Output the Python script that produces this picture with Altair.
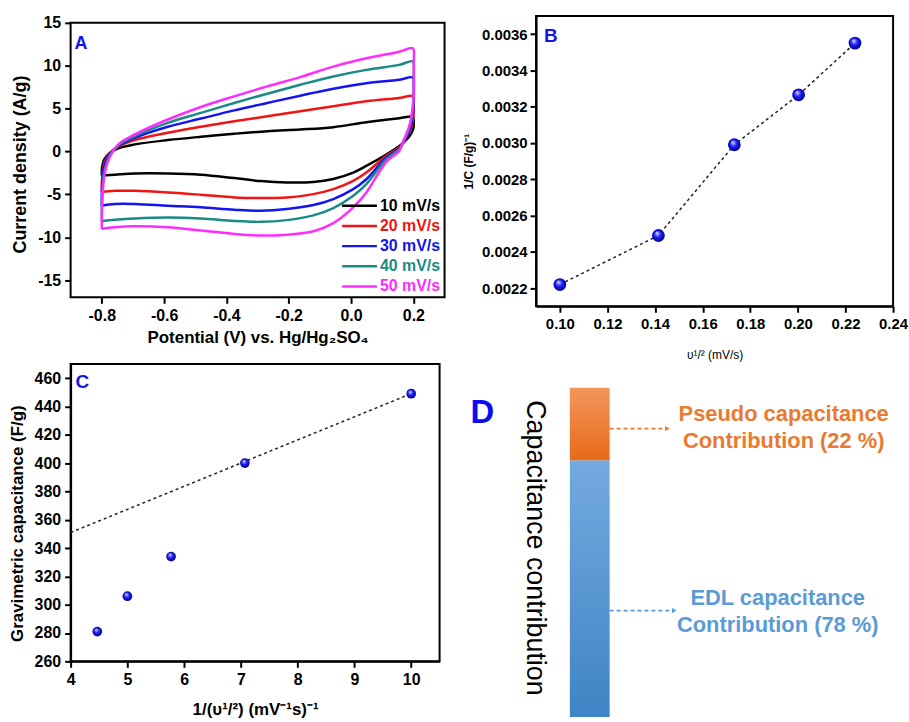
import altair as alt
import pandas as pd

FONT = "Liberation Sans"
LETTER_BLUE = "#1414e6"

# ---------------- Panel A : cyclic voltammograms ----------------
rates = ["10 mV/s", "20 mV/s", "30 mV/s", "40 mV/s", "50 mV/s"]
rate_colors = ["#000000", "#f01414", "#1414f0", "#1a8a84", "#ff2cff"]

potential = [-0.800, -0.799, -0.792, -0.775, -0.745, -0.694, -0.588, -0.482, -0.375,
             -0.269, -0.163, -0.057, 0.049, 0.155, 0.198, 0.201, 0.199, 0.188, 0.170,
             0.155, 0.113, 0.049, 0.007, -0.057, -0.121, -0.206, -0.290, -0.375,
             -0.482, -0.588, -0.694, -0.758, -0.800]
current_10 = [-2.8, -1.8, -0.9, -0.2, 0.4, 0.83, 1.33, 1.72, 2.07, 2.37, 2.57, 2.84, 3.42,
              3.88, 4.03, 3.5, 2.6, 1.8, 1.1, 0.64, -0.35, -1.68, -2.45, -3.2, -3.55,
              -3.61, -3.45, -3.1, -2.7, -2.55, -2.55, -2.7, -2.8]
current_20 = [-4.7, -3.2, -1.3, -0.2, 0.6, 1.33, 2.18, 2.88, 3.53, 4.11, 4.69, 5.27, 5.85,
              6.24, 6.45, 5.6, 3.7, 2.3, 1.2, 0.5, -0.5, -2.45, -3.42, -4.39, -4.97,
              -5.35, -5.43, -5.35, -5.04, -4.77, -4.58, -4.58, -4.7]
current_30 = [-6.32, -4.0, -1.68, -0.3, 0.7, 1.6, 2.88, 3.84, 4.8, 5.66, 6.51, 7.32, 7.97,
              8.36, 8.63, 7.6, 4.5, 2.5, 1.2, 0.4, -0.7, -3.23, -4.39, -5.54, -6.24,
              -6.7, -6.9, -6.78, -6.51, -6.32, -6.12, -6.12, -6.32]
current_40 = [-8.1, -5.54, -2.45, -0.5, 0.8, 1.8, 3.34, 4.5, 5.66, 6.74, 7.78, 8.75, 9.52,
              10.1, 10.5, 9.1, 5.27, 2.9, 1.3, 0.3, -0.9, -3.8, -5.16, -6.6, -7.45,
              -8.0, -8.2, -8.1, -7.8, -7.7, -7.8, -7.95, -8.1]
current_50 = [-9.02, -6.32, -2.84, -0.7, 0.9, 1.99, 3.73, 5.19, 6.43, 7.59, 8.67, 9.9, 10.87,
              11.64, 12.03, 10.3, 5.66, 3.1, 1.4, 0.1, -1.2, -4.77, -6.51, -8.35, -9.3,
              -9.7, -9.8, -9.6, -9.2, -8.83, -8.71, -8.83, -9.02]
a_x_ticks = [-0.8, -0.6, -0.4, -0.2, 0.0, 0.2]
a_y_ticks = [-15, -10, -5, 0, 5, 10, 15]

# ---------------- Panel B : 1/C vs sqrt(scan rate) ----------------
b_sqrt_rate = [0.1000, 0.1414, 0.1733, 0.2003, 0.2240]
b_inv_cap = [0.00222, 0.00249, 0.00299, 0.003265, 0.00355]
b_x_ticks = [0.10, 0.12, 0.14, 0.16, 0.18, 0.20, 0.22, 0.24]
b_y_ticks = [0.0022, 0.0024, 0.0026, 0.0028, 0.0030, 0.0032, 0.0034, 0.0036]

# ---------------- Panel C : C vs 1/sqrt(scan rate) ----------------
c_inv_sqrt = [4.47, 5.0, 5.77, 7.07, 10.0]
c_capacitance = [281, 306, 334, 400, 449]
c_fit_x = [4.0, 10.0]
c_fit_y = [351, 449]
c_x_ticks = [4, 5, 6, 7, 8, 9, 10]
c_y_ticks = [260, 280, 300, 320, 340, 360, 380, 400, 420, 440, 460]

# ---------------- Panel D : contributions ----------------
d_keys = ["EDL", "Pseudo"]
d_titles = ["EDL capacitance", "Pseudo capacitance"]
d_share = [78, 22]
panel_letters = ["A", "B", "C", "D"]

HYPHEN_LABELS = "replace(datum.label, '\u2212', '-')"


def axis(values, fmt, title, lsize, tsize, tpad, lpad=4, tweight="bold", domain=True, **kw):
    return alt.Axis(values=values, format=fmt, title=title, labelFont=FONT,
                    labelFontSize=lsize, labelFontWeight="bold", labelColor="black",
                    titleFont=FONT, titleFontSize=tsize, titleFontWeight=tweight,
                    titleColor="black", titlePadding=tpad, labelPadding=lpad,
                    tickSize=6, tickWidth=2, tickColor="black", domain=domain,
                    domainColor="black", domainWidth=2, grid=False, labelFlush=False,
                    labelOverlap=False, **kw)


def letter(ch, x, y, size):
    return alt.Chart(pd.DataFrame({"t": [ch]})).mark_text(
        font=FONT, fontWeight="bold", fontSize=size, color=LETTER_BLUE,
        align="left", baseline="alphabetic"
    ).encode(text="t:N", x=alt.value(x), y=alt.value(y))


sphere = alt.RadialGradient(
    gradient="radial", x1=0.38, y1=0.3, r1=0.0, x2=0.5, y2=0.5, r2=0.55,
    stops=[alt.GradientStop(offset=0, color="#ffffff"),
           alt.GradientStop(offset=0.2, color="#8c8cff"),
           alt.GradientStop(offset=0.5, color="#1a1af5"),
           alt.GradientStop(offset=1, color="#00007a")])

# ----- A -----  (view is 7 px taller than its frame so that panel B can sit higher)
A_W, A_H, A_TOP = 376, 283, 7
rows = []
for rate, cur in zip(rates, [current_10, current_20, current_30, current_40, current_50]):
    for k, (v, c) in enumerate(zip(potential, cur)):
        rows.append({"rate": rate, "V": v, "I": c, "idx": k})
cv_df = pd.DataFrame(rows)
color_scale = alt.Scale(domain=rates, range=rate_colors)

cv = alt.Chart(cv_df).mark_line(strokeWidth=2.5, interpolate="catmull-rom").encode(
    x=alt.X("V:Q", scale=alt.Scale(domain=[-0.9, 0.3], nice=False, zero=False),
            axis=axis(a_x_ticks, ".1f", "Potential (V) vs. Hg/Hg\u2082SO\u2084", 16, 17, 6,
                      domain=False, labelExpr=HYPHEN_LABELS)),
    y=alt.Y("I:Q", scale=alt.Scale(domain=[-17, 15.81], nice=False, zero=False),
            axis=axis(a_y_ticks, "d", "Current density (A/g)", 16, 18, 8, domain=False,
                      titleY=149, labelExpr=HYPHEN_LABELS)),
    color=alt.Color("rate:N", scale=color_scale, legend=None),
    order=alt.Order("idx:Q"),
)
frame_a = alt.Chart(pd.DataFrame({"t": [panel_letters[0]]})).mark_rect(
    fillOpacity=0, stroke="black", strokeWidth=2
).encode(x=alt.value(0), x2=alt.value(A_W), y=alt.value(A_TOP), y2=alt.value(A_H))
leg_df = pd.DataFrame({"rate": rates})
leg_y = alt.Y("rate:N", scale=alt.Scale(type="point", domain=rates,
                                          range=[184 + A_TOP, 265 + A_TOP], padding=0), axis=None)
leg_rule = alt.Chart(leg_df).mark_rule(strokeWidth=2.5).encode(
    x=alt.value(273), x2=alt.value(308), y=leg_y,
    color=alt.Color("rate:N", scale=color_scale, legend=None))
leg_text = alt.Chart(leg_df).mark_text(
    align="left", baseline="middle", font=FONT, fontSize=16, fontWeight="bold"
).encode(x=alt.value(311), y=leg_y, text="rate:N",
         color=alt.Color("rate:N", scale=color_scale, legend=None))

panel_a = alt.layer(cv, frame_a, leg_rule, leg_text,
                    letter(panel_letters[0], 4, 26 + A_TOP, 18)).resolve_scale(
    y="independent").properties(width=A_W, height=A_H,
                                view=alt.ViewBackground(stroke="transparent"))

# ----- B -----
b_df = pd.DataFrame({"x": b_sqrt_rate, "y": b_inv_cap})
b_x = alt.X("x:Q", scale=alt.Scale(domain=[0.09, 0.24], nice=False, zero=False),
            axis=axis(b_x_ticks, ".2f", "\u03c5\u00b9/\u00b2 (mV/s)", 15, 12, 18, tweight="normal"))
b_y = alt.Y("y:Q", scale=alt.Scale(domain=[0.0021, 0.0037], nice=False, zero=False),
            axis=axis(b_y_ticks, ".4f", "1/C (F/g)\u207b\u00b9", 15, 12, 6, lpad=3))
b_line = alt.Chart(b_df).mark_line(strokeDash=[3, 3], strokeWidth=1.5, color="#222222").encode(x=b_x, y=b_y)
b_pts = alt.Chart(b_df).mark_circle(size=165, opacity=1, color=sphere).encode(x=b_x, y=b_y)
panel_b = alt.layer(b_line, b_pts, letter(panel_letters[1], 8, 26, 19)).properties(width=359, height=292)

# ----- C -----
c_df = pd.DataFrame({"x": c_inv_sqrt, "y": c_capacitance})
fit_df = pd.DataFrame({"x": c_fit_x, "y": c_fit_y})
c_x = alt.X("x:Q", scale=alt.Scale(domain=[4, 10.5], nice=False, zero=False),
            axis=axis(c_x_ticks, "d", "1/(\u03c5\u00b9/\u00b2) (mV\u207b\u00b9s)\u207b\u00b9", 16, 17, 14))
c_y = alt.Y("y:Q", scale=alt.Scale(domain=[260, 470], nice=False, zero=False),
            axis=axis(c_y_ticks, "d", "Gravimetric capacitance (F/g)", 16, 17, 8, titleY=160))
c_fit = alt.Chart(fit_df).mark_line(strokeDash=[3, 3], strokeWidth=1.5, color="#222222").encode(x=c_x, y=c_y)
c_pts = alt.Chart(c_df).mark_circle(size=95, opacity=1, color=sphere).encode(x=c_x, y=c_y)
panel_c = alt.layer(c_fit, c_pts, letter(panel_letters[2], 5, 24, 19)).properties(width=371, height=299)

# ----- D -----
ends = []
acc = 0
for s in d_share:
    acc += s
    ends.append(acc)
d_df = pd.DataFrame({
    "key": d_keys, "title": d_titles, "share": d_share,
    "start": [e - s for e, s in zip(ends, d_share)], "end": ends,
    "contrib": ["Contribution (%d %%)" % s for s in d_share],
})
d_y = alt.Y("start:Q", scale=alt.Scale(domain=[0, 107.25], nice=False, zero=False), axis=None)


def component(key, grad_top, grad_bottom, text_color, arrow_y, tip_x, text_x, base1, base2):
    base = alt.Chart(d_df).transform_filter(alt.datum.key == key)
    grad = alt.LinearGradient(gradient="linear", x1=0, y1=0, x2=0, y2=1,
                              stops=[alt.GradientStop(offset=0, color=grad_top),
                                     alt.GradientStop(offset=1, color=grad_bottom)])
    bar = base.mark_bar(color=grad).encode(x=alt.value(117), x2=alt.value(157), y=d_y, y2="end:Q")
    arrow = base.mark_rule(strokeDash=[4, 3], strokeWidth=1.6, color=text_color).encode(
        x=alt.value(157), x2=alt.value(tip_x - 4), y=alt.value(arrow_y))
    head = base.mark_point(shape="triangle-right", filled=True, size=28, opacity=1, color=text_color).encode(
        x=alt.value(tip_x - 2), y=alt.value(arrow_y))
    t1 = base.mark_text(font=FONT, fontSize=22, fontWeight="bold", color=text_color,
                        align="center", baseline="alphabetic").encode(
        text="title:N", x=alt.value(text_x), y=alt.value(base1))
    t2 = base.mark_text(font=FONT, fontSize=22, fontWeight="bold", color=text_color,
                        align="center", baseline="alphabetic").encode(
        text="contrib:N", x=alt.value(text_x), y=alt.value(base2))
    return [bar, arrow, head, t1, t2]


d_title = alt.Chart(pd.DataFrame({"t": ["Capacitance contribution"]})).mark_text(
    font=FONT, fontSize=27, angle=90, align="center", baseline="alphabetic", color="black"
).encode(text="t:N", x=alt.value(74), y=alt.value(185))
d_letter = alt.Chart(pd.DataFrame({"t": [panel_letters[3]]})).mark_text(
    font=FONT, fontWeight="bold", fontSize=33, color="#0a0af5", align="center", baseline="alphabetic"
).encode(text="t:N", x=alt.value(29), y=alt.value(59))

layers_d = (component("EDL", "#74aadf", "#3f84c5", "#5b9bd5", 248, 224, 326, 242, 269)
            + component("Pseudo", "#f2965c", "#e86a18", "#ea7a30", 65, 217, 332, 57, 84)
            + [d_title, d_letter])
panel_d = alt.layer(*layers_d).properties(width=445, height=355,
                                         view=alt.ViewBackground(stroke="transparent"))

top = alt.hconcat(panel_a, panel_b, spacing=15)
bottom = alt.hconcat(panel_c, panel_d, spacing=12)
chart = alt.vconcat(top, bottom, spacing=2).properties(
    padding={"left": 7, "top": 11, "right": 0, "bottom": 0}, background="white"
).configure_view(stroke="black", strokeWidth=2)

chart.save("out.html", embed_options={"renderer": "svg", "actions": False})
